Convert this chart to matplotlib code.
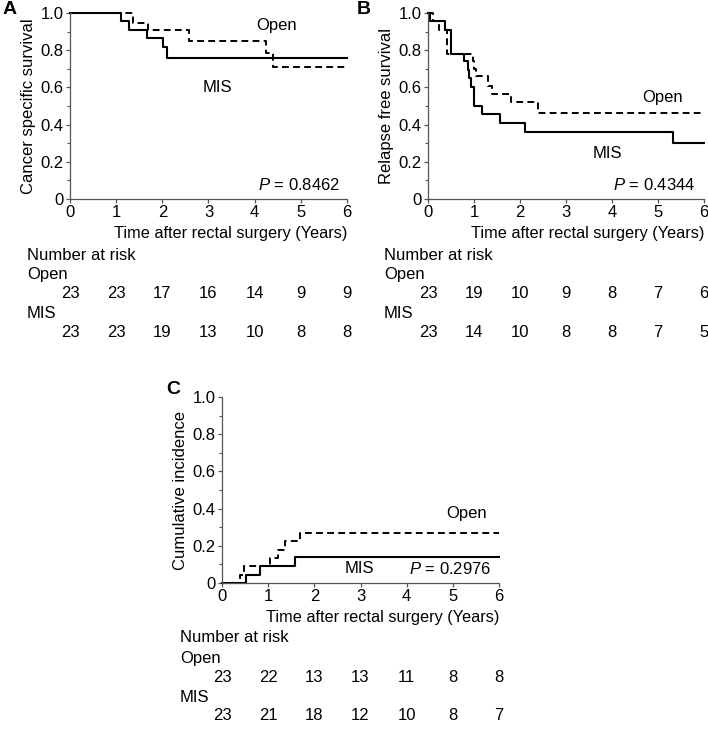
import matplotlib
matplotlib.use("Agg")
import matplotlib.pyplot as plt
import matplotlib.transforms as mtransforms
from matplotlib.ticker import MultipleLocator

plt.rcParams['font.family'] = ['Liberation Sans', 'DejaVu Sans']
plt.rcParams['font.size'] = 12
plt.rcParams['mathtext.fontset'] = 'custom'
plt.rcParams['mathtext.it'] = 'Liberation Sans:italic'
plt.rcParams['mathtext.rm'] = 'Liberation Sans'

# ---- Data ----
years = [0, 1, 2, 3, 4, 5, 6]

# Panel A: cancer specific survival
a_mis_t = [0, 1.10, 1.27, 1.66, 2.02, 2.10, 6.0]
a_mis_s = [1.0, 0.957, 0.91, 0.864, 0.818, 0.76, 0.76]
a_open_t = [0, 1.37, 1.70, 2.57, 4.24, 4.40, 6.0]
a_open_s = [1.0, 0.946, 0.907, 0.85, 0.785, 0.71, 0.71]
a_risk_open = [23, 23, 17, 16, 14, 9, 9]
a_risk_mis = [23, 23, 19, 13, 10, 8, 8]

# Panel B: relapse free survival
b_mis_t = [0, 0.04, 0.36, 0.49, 0.78, 0.86, 0.89, 0.94, 1.01, 1.18, 1.56, 2.10, 5.33, 6.0]
b_mis_s = [1.0, 0.957, 0.91, 0.78, 0.74, 0.695, 0.65, 0.60, 0.50, 0.458, 0.411, 0.359, 0.30, 0.30]
b_open_t = [0, 0.10, 0.24, 0.42, 0.97, 1.01, 1.05, 1.30, 1.40, 1.80, 2.40, 6.0]
b_open_s = [1.0, 0.957, 0.91, 0.78, 0.74, 0.70, 0.66, 0.61, 0.565, 0.52, 0.46, 0.46]
b_risk_open = [23, 19, 10, 9, 8, 7, 6]
b_risk_mis = [23, 14, 10, 8, 8, 7, 5]

# Panel C: cumulative incidence
c_mis_t = [0, 0.51, 0.82, 1.58, 6.0]
c_mis_s = [0.0, 0.045, 0.09, 0.14, 0.14]
c_open_t = [0, 0.40, 0.48, 1.03, 1.21, 1.36, 1.68, 6.0]
c_open_s = [0.0, 0.045, 0.09, 0.136, 0.18, 0.227, 0.27, 0.27]
c_risk_open = [23, 22, 13, 13, 11, 8, 8]
c_risk_mis = [23, 21, 18, 12, 10, 8, 7]

W, H = 708, 730
fig = plt.figure(figsize=(W / 100, H / 100), dpi=100)


def px_axes(x0, x1, ytop, ybot):
    return fig.add_axes([x0 / W, 1 - ybot / H, (x1 - x0) / W, (ybot - ytop) / H])


def style(ax, ylabel):
    ax.set_xlim(0, 6)
    ax.set_ylim(0, 1)
    ax.set_xticks(years)
    ax.set_yticks([0, 0.2, 0.4, 0.6, 0.8, 1.0])
    ax.set_yticklabels(['0', '0.2', '0.4', '0.6', '0.8', '1.0'])
    ax.yaxis.set_minor_locator(MultipleLocator(0.1))
    for s in ['top', 'right']:
        ax.spines[s].set_visible(False)
    for s in ['left', 'bottom']:
        ax.spines[s].set_color('#555555')
        ax.spines[s].set_linewidth(0.9)
    ax.tick_params(which='major', direction='out', length=3, width=0.9, color='#555555', pad=1.5)
    ax.tick_params(which='minor', direction='out', length=2, width=0.8, color='#555555')
    ax.set_ylabel(ylabel, labelpad=3)
    ax.set_xlabel('Time after rectal surgery (Years)', labelpad=4, loc='right', fontsize=11.7)


def curves(ax, mt, ms, ot, os_):
    ax.step(mt, ms, where='post', color='black', lw=1.5, clip_on=False)
    ax.step(ot, os_, where='post', color='black', lw=1.4, ls=(0, (3.5, 2.2)), clip_on=False)


def risk(ax, xlabel_px, ytop_px, ropen, rmis):
    trans = mtransforms.blended_transform_factory(ax.transData, fig.transFigure)
    ys = [ytop_px + d for d in (0, 20, 39, 59, 78)]
    fy = [1 - y / H for y in ys]
    fig.text(xlabel_px / W, fy[0], 'Number at risk', ha='left', va='center')
    fig.text(xlabel_px / W, fy[1], 'Open', ha='left', va='center')
    fig.text(xlabel_px / W, fy[3], 'MIS', ha='left', va='center')
    for x, n in zip(years, ropen):
        ax.text(x, fy[2], str(n), transform=trans, ha='center', va='center', clip_on=False)
    for x, n in zip(years, rmis):
        ax.text(x, fy[4], str(n), transform=trans, ha='center', va='center', clip_on=False)


# Panel A
axA = px_axes(70, 347, 13, 199)
curves(axA, a_mis_t, a_mis_s, a_open_t, a_open_s)
style(axA, 'Cancer specific survival')
axA.text(4.48, 0.934, 'Open', ha='center', va='center')
axA.text(3.2, 0.60, 'MIS', ha='center', va='center')
axA.text(5.86, 0.075, r'$P$ = 0.8462', ha='right', va='center')
risk(axA, 27, 255, a_risk_open, a_risk_mis)
fig.text(3 / W, 1 - 10 / H, 'A', fontsize=14, fontweight='bold', ha='left', va='center')

# Panel B
axB = px_axes(428, 704, 13, 199)
curves(axB, b_mis_t, b_mis_s, b_open_t, b_open_s)
style(axB, 'Relapse free survival')
axB.text(5.09, 0.548, 'Open', ha='center', va='center')
axB.text(3.9, 0.246, 'MIS', ha='center', va='center')
axB.text(5.82, 0.075, r'$P$ = 0.4344', ha='right', va='center')
risk(axB, 384, 255, b_risk_open, b_risk_mis)
fig.text(357 / W, 1 - 10 / H, 'B', fontsize=14, fontweight='bold', ha='left', va='center')

# Panel C
axC = px_axes(222, 499, 397, 583)
curves(axC, c_mis_t, c_mis_s, c_open_t, c_open_s)
style(axC, 'Cumulative incidence')
axC.text(5.3, 0.373, 'Open', ha='center', va='center')
axC.text(2.98, 0.077, 'MIS', ha='center', va='center')
axC.text(5.84, 0.077, r'$P$ = 0.2976', ha='right', va='center')
risk(axC, 180, 638, c_risk_open, c_risk_mis)
fig.text(166 / W, 1 - 390 / H, 'C', fontsize=14, fontweight='bold', ha='left', va='center')

fig.savefig('out.png', dpi=100)
